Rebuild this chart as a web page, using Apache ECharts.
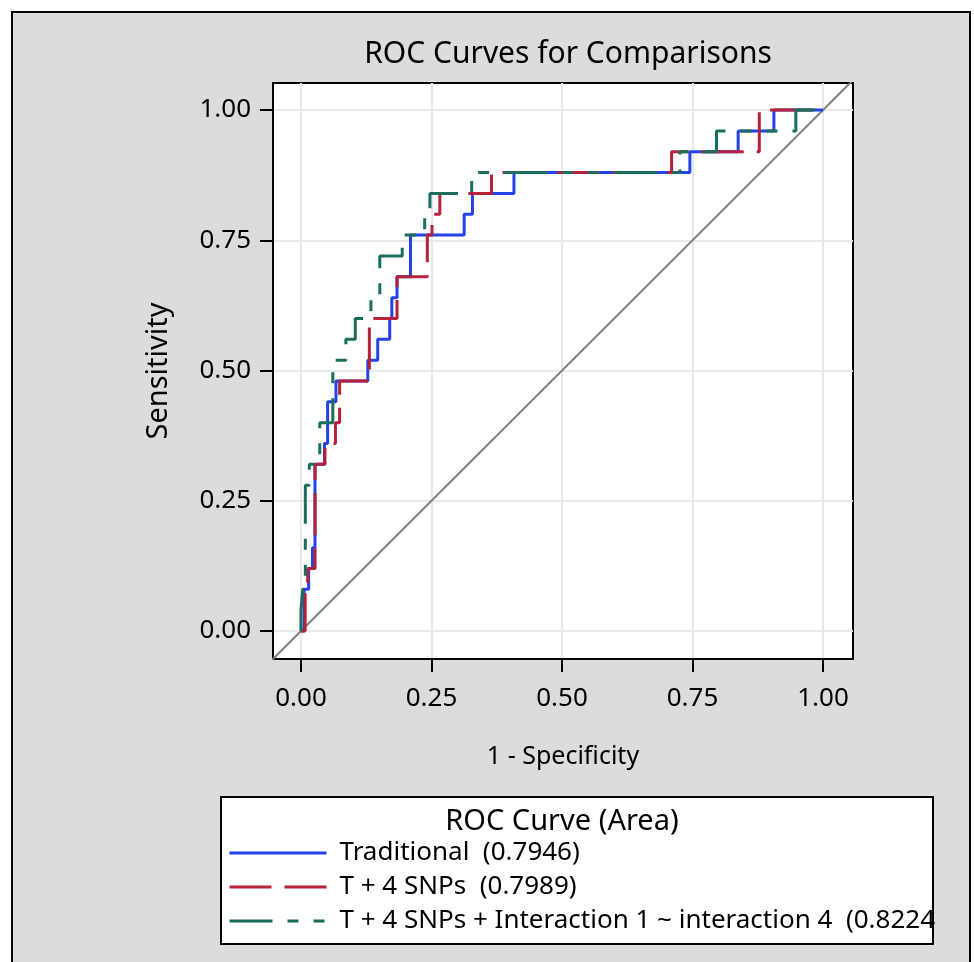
<!DOCTYPE html>
<html>
<head>
<meta charset="utf-8">
<title>ROC Curves for Comparisons</title>
<script src="https://cdn.jsdelivr.net/npm/echarts@6/dist/echarts.min.js"></script>
<style>
html, body { margin: 0; padding: 0; background: #fff; }
#RocChart { width: 974px; height: 962px; }
</style>
</head>
<body>
<div id="RocChart"></div>
<script>
// step points (1 - specificity, sensitivity)
const tradFpr = [0, 0.006, 0.0147, 0.022, 0.0268, 0.045, 0.051, 0.067, 0.128, 0.147, 0.170, 0.174, 0.184, 0.2098, 0.3126, 0.3285, 0.408, 0.745, 0.8375, 0.906, 1];
const tradTpr = [0, 0.08, 0.12, 0.16, 0.32, 0.36, 0.44, 0.48, 0.52, 0.56, 0.60, 0.64, 0.68, 0.76, 0.80, 0.84, 0.88, 0.92, 0.96, 1.0, 1.0];

const snpFpr = [0, 0.008, 0.0128, 0.027, 0.046, 0.066, 0.074, 0.131, 0.184, 0.242, 0.251, 0.266, 0.365, 0.71, 0.878, 1];
const snpTpr = [0, 0.08, 0.12, 0.32, 0.36, 0.40, 0.48, 0.60, 0.68, 0.76, 0.80, 0.84, 0.88, 0.92, 1.0, 1.0];

const intFpr = [0, 0, 0.0032, 0.0083, 0.016, 0.036, 0.061, 0.086, 0.104, 0.134, 0.151, 0.194, 0.237, 0.247, 0.327, 0.726, 0.796, 0.948, 1];
const intTpr = [0, 0.04, 0.08, 0.28, 0.32, 0.40, 0.52, 0.56, 0.60, 0.64, 0.72, 0.76, 0.80, 0.84, 0.88, 0.92, 0.96, 1.0, 1.0];

const seriesNames = [
  "Traditional  (0.7946)",
  "T + 4 SNPs  (0.7989)",
  "T + 4 SNPs + Interaction 1 ~ interaction 4  (0.8224)"
];
const tickValues = [0, 0.25, 0.5, 0.75, 1];
const refLine = [[-0.1, -0.1], [1.1, 1.1]];

const font = "'Noto Sans', 'Open Sans', sans-serif";
const zip = (xs, ys) => xs.map((x, i) => [x, ys[i]]);

const chartDom = document.getElementById("RocChart");
const myChart = echarts.init(chartDom);

const axisCommon = {
  type: "value",
  axisLine: { onZero: false, lineStyle: { color: "#000", width: 2 } },
  axisTick: { customValues: tickValues, length: 13, lineStyle: { color: "#000", width: 2 } },
  axisLabel: {
    customValues: tickValues,
    formatter: (v) => v.toFixed(2),
    color: "#000",
    fontSize: 26,
    fontFamily: font,
  },
  splitLine: { show: true, lineStyle: { color: "#e9e9e9", width: 2 } },
  nameLocation: "middle",
  nameTextStyle: { color: "#000", fontSize: 25, fontFamily: font },
};

const option = {
  backgroundColor: "#fff",
  animation: false,
  title: {
    text: "ROC Curves for Comparisons",
    left: 563,
    textAlign: "center",
    top: 34,
    textStyle: { color: "#000", fontSize: 30, fontWeight: "normal", fontFamily: font },
  },
  graphic: [
    {
      type: "rect",
      z: -100,
      shape: { x: 12, y: 12, width: 958, height: 960 },
      style: { fill: "#dcdcdc", stroke: "#000", lineWidth: 2 },
    },
    {
      type: "rect",
      z: -90,
      shape: { x: 221, y: 797, width: 712, height: 147 },
      style: { fill: "#fff", stroke: "#000", lineWidth: 2 },
    },
    {
      type: "text",
      z: 10,
      x: 562,
      y: 822,
      style: {
        text: "ROC Curve (Area)",
        fill: "#000",
        fontSize: 29,
        fontFamily: font,
        textAlign: "center",
        textVerticalAlign: "middle",
      },
    },
  ],
  grid: {
    left: 273,
    top: 83,
    width: 580,
    height: 576,
    show: true,
    backgroundColor: "#fff",
    borderColor: "#000",
    borderWidth: 2,
  },
  legend: {
    data: seriesNames,
    orient: "vertical",
    left: 228,
    top: 838,
    padding: 0,
    itemWidth: 97,
    itemHeight: 14,
    itemGap: 4,
    itemStyle: { opacity: 0 },
    lineStyle: { width: 3 },
    textStyle: {
      color: "#000",
      fontSize: 26,
      fontFamily: font,
      lineHeight: 30,
      padding: [0, 0, 0, 8],
      width: 597,
      overflow: "truncate",
      ellipsis: "",
    },
  },
  xAxis: Object.assign({}, axisCommon, {
    min: -0.0536,
    max: 1.0575,
    name: "1 - Specificity",
    nameGap: 85,
    axisLabel: Object.assign({}, axisCommon.axisLabel, { margin: 27 }),
  }),
  yAxis: Object.assign({}, axisCommon, {
    min: -0.0537,
    max: 1.052,
    name: "Sensitivity",
    nameGap: 100,
    nameTextStyle: { color: "#000", fontSize: 29, fontFamily: font },
    axisLabel: Object.assign({}, axisCommon.axisLabel, { margin: 22 }),
  }),
  series: [
    {
      name: "reference",
      type: "line",
      data: refLine,
      symbol: "none",
      silent: true,
      lineStyle: { color: "#808080", width: 2 },
    },
    {
      name: seriesNames[0],
      type: "line",
      step: "end",
      data: zip(tradFpr, tradTpr),
      symbol: "none",
      color: "#2443e6",
      lineStyle: { width: 3 },
    },
    {
      name: seriesNames[1],
      type: "line",
      step: "end",
      data: zip(snpFpr, snpTpr),
      symbol: "none",
      color: "#b5213a",
      lineStyle: { width: 3, type: [42, 13] },
    },
    {
      name: seriesNames[2],
      type: "line",
      step: "end",
      data: zip(intFpr, intTpr),
      symbol: "none",
      color: "#1b6e5c",
      lineStyle: { width: 3, type: [43, 15, 11, 15, 11, 15] },
    },
  ],
};

option && myChart.setOption(option);
window.addEventListener("resize", myChart.resize);
</script>
</body>
</html>
